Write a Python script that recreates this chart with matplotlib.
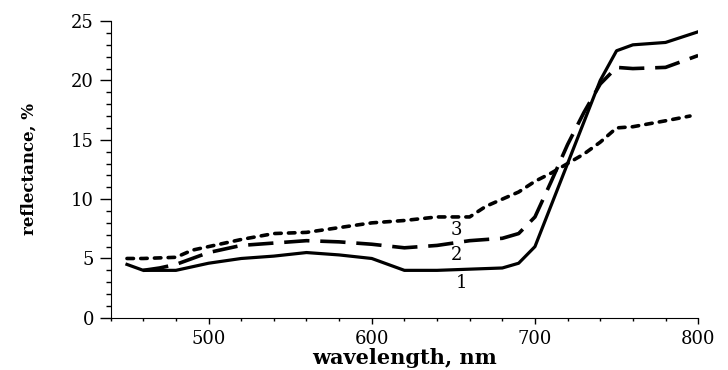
import numpy as np
import matplotlib
matplotlib.use("Agg")
import matplotlib.pyplot as plt
from matplotlib.ticker import MultipleLocator

# reflectance spectra
wl1 = [450, 460, 480, 490, 500, 520, 540, 560, 580, 600, 620, 640, 660, 680, 690,
       700, 710, 720, 730, 740, 750, 760, 780, 800]
r1 = [4.5, 4.0, 4.0, 4.3, 4.6, 5.0, 5.2, 5.5, 5.3, 5.0, 4.0, 4.0, 4.1, 4.2, 4.6,
      6.0, 9.5, 13.0, 16.5, 20.0, 22.5, 23.0, 23.2, 24.1]

wl2 = [460, 470, 480, 490, 500, 520, 540, 560, 580, 600, 620, 640, 660, 680, 690,
       700, 710, 720, 730, 740, 750, 760, 780, 800]
r2 = [4.0, 4.2, 4.5, 5.0, 5.5, 6.1, 6.3, 6.5, 6.4, 6.2, 5.9, 6.1, 6.5, 6.7, 7.1,
      8.5, 11.5, 14.6, 17.3, 19.7, 21.1, 21.0, 21.1, 22.1]

wl3 = [450, 460, 480, 490, 500, 520, 540, 560, 580, 600, 620, 640, 660, 670, 680,
       690, 700, 710, 720, 730, 740, 750, 760, 780, 795]
r3 = [5.0, 5.0, 5.1, 5.7, 6.0, 6.6, 7.1, 7.2, 7.6, 8.0, 8.2, 8.5, 8.5, 9.4, 10.0,
      10.6, 11.5, 12.2, 13.0, 13.8, 14.8, 16.0, 16.1, 16.6, 17.0]

curve_labels = ["1", "2", "3"]
label_pos = [(655, 2.95), (652, 5.3), (652, 7.4)]

plt.rcParams['font.family'] = ['DejaVu Serif']

fig = plt.figure(figsize=(7.28, 3.70), dpi=100)
ax = fig.add_axes([0.152, 0.141, 0.807, 0.802])

ax.plot(wl1, r1, color='black', lw=2.3, solid_joinstyle='round')
ax.plot(wl2, r2, color='black', lw=2.6, linestyle=(0, (7, 3)))
ax.plot(wl3, r3, color='black', lw=2.6, linestyle=(0, (1.8, 2.0)),
        dash_capstyle='round')

for lab, (x, y) in zip(curve_labels, label_pos):
    ax.text(x, y, lab, fontsize=13, ha='center', va='center')

ax.set_xlim(440, 800)
ax.set_ylim(0, 25)
ax.xaxis.set_major_locator(MultipleLocator(100))
ax.xaxis.set_minor_locator(MultipleLocator(20))
ax.yaxis.set_major_locator(MultipleLocator(5))
ax.yaxis.set_minor_locator(MultipleLocator(1))

ax.spines['top'].set_visible(False)
ax.spines['right'].set_visible(False)
ax.tick_params(axis='x', which='major', length=4.5, width=1, labelsize=13, pad=4)
ax.tick_params(axis='x', which='minor', length=2.2, width=1)
ax.tick_params(axis='y', which='major', length=8, width=1, labelsize=13, pad=4)
ax.tick_params(axis='y', which='minor', length=3.6, width=1)

ax.set_xlabel('wavelength, nm', fontsize=15, fontweight='bold', labelpad=0)
ax.set_ylabel('reflectance, %', fontsize=12, fontweight='heavy', labelpad=24)

fig.savefig('out.png', dpi=100)
